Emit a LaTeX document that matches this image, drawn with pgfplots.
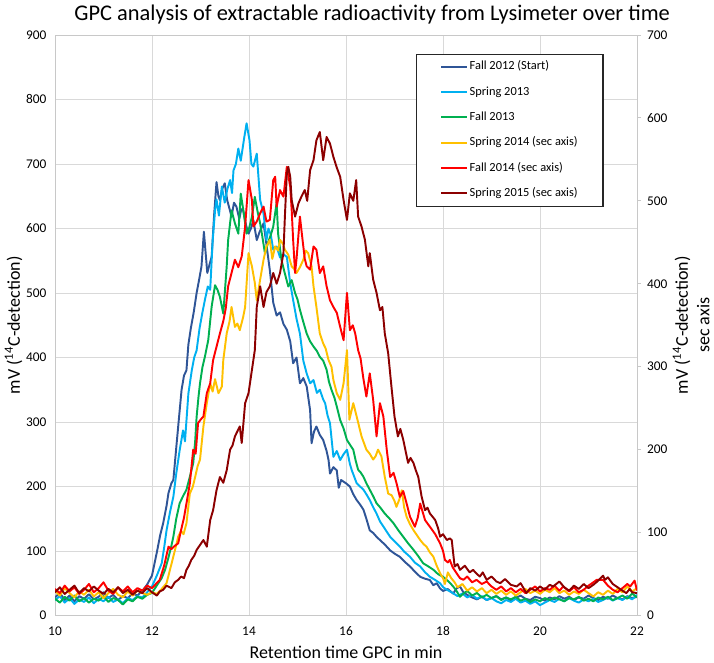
\documentclass[border=0pt]{standalone}
\usepackage{fontspec}
\setmainfont{Carlito}
\usepackage{pgfplots}
\pgfplotsset{compat=1.18}
\definecolor{cFallA}{RGB}{47,85,151}
\definecolor{cSprA}{RGB}{0,176,240}
\definecolor{cFallB}{RGB}{0,176,80}
\definecolor{cSprB}{RGB}{255,192,0}
\definecolor{cFallC}{RGB}{255,0,0}
\definecolor{cSprC}{RGB}{140,0,0}
\definecolor{gridgray}{RGB}{217,217,217}
\definecolor{axisgray}{RGB}{200,200,200}

\begin{document}
\begin{tikzpicture}
\useasboundingbox (-41.25pt,-35.625pt) rectangle (494.25pt,461.625pt);
\pgfplotsset{
  every axis plot/.append style={line width=1.45pt, line join=round},
  tick label style={font=\fontsize{10}{12}\selectfont},
}
% primary axis (left)
\begin{axis}[
  at={(0,0)}, anchor=south west,
  scale only axis, width=436.5pt, height=435.4pt,
  xmin=10, xmax=22, ymin=0, ymax=900,
  xtick={10,12,...,22}, ytick={0,100,...,900},
  grid=major, major grid style={draw=gridgray, line width=0.6pt},
  axis line style={draw=axisgray, line width=0.6pt},
  major tick length=0pt,
  /pgf/number format/assume math mode=true,
  xticklabel style={yshift=-5pt},
  yticklabel style={xshift=-3pt},
  xtick pos=bottom, ytick pos=left,
  title={GPC analysis of extractable radioactivity from Lysimeter over time},
  every axis title/.style={font=\fontsize{16.8}{20}\selectfont, at={(axis description cs:0.545,1.0344)}, anchor=center},
  xlabel={Retention time GPC in min},
  every axis x label/.style={at={(axis description cs:0.5,-0.063)}, anchor=center, font=\fontsize{13.5}{16}\selectfont},
  ylabel={mV (\textsuperscript{14}C-detection)},
  every axis y label/.style={at={(axis description cs:-0.071,0.5)}, rotate=90, anchor=center, font=\fontsize{13.5}{16}\selectfont},
]
\addplot[cFallA] coordinates {
(10.0,28)(10.1,35)(10.2,24)(10.3,31)(10.4,22)(10.5,30)(10.6,26)(10.7,33)(10.8,25)(10.9,29)
(11.0,36)(11.1,27)(11.2,32)(11.3,24)(11.4,30)(11.5,27)(11.6,34)(11.7,31)(11.8,38)(11.9,48)
(12.0,62)(12.1,98)(12.17,125)(12.23,143)(12.3,170)(12.34,190)(12.4,205)(12.44,210)(12.5,260)(12.54,293)
(12.61,350)(12.66,372)(12.71,380)(12.75,420)(12.8,445)(12.86,470)(12.92,500)(12.97,520)(13.02,541)(13.07,595)
(13.14,531)(13.2,548)(13.23,556)(13.28,620)(13.33,672)(13.37,650)(13.4,644)(13.45,662)(13.5,670)(13.55,644)
(13.6,630)(13.64,618)(13.69,640)(13.74,634)(13.8,615)(13.84,630)(13.88,628)(13.94,605)(13.99,592)(14.04,600)
(14.09,613)(14.16,582)(14.22,595)(14.3,608)(14.36,575)(14.43,535)(14.5,485)(14.57,465)(14.64,470)(14.71,452)
(14.78,443)(14.85,425)(14.91,391)(14.98,400)(15.05,360)(15.12,368)(15.19,355)(15.26,318)(15.29,267)(15.34,285)
(15.39,293)(15.46,280)(15.53,272)(15.6,255)(15.64,241)(15.67,220)(15.74,230)(15.81,225)(15.85,198)(15.9,210)
(16.0,205)(16.08,200)(16.15,188)(16.22,179)(16.29,172)(16.36,164)(16.42,150)(16.49,132)(16.56,128)(16.63,122)
(16.7,117)(16.8,110)(16.91,101)(17.0,96)(17.11,91)(17.2,84)(17.32,76)(17.42,68)(17.53,60)(17.63,57)
(17.73,55)(17.8,47)(17.87,50)(17.94,42)(18.0,38)(18.1,41)(18.21,34)(18.28,42)(18.35,45)(18.42,36)
(18.5,32)(18.6,28)(18.7,25)(18.8,29)(18.9,24)(19.0,27)(19.1,30)(19.2,25)(19.3,28)(19.4,23)
(19.5,27)(19.6,31)(19.7,26)(19.8,24)(19.9,29)(20.0,27)(20.1,23)(20.2,28)(20.3,25)(20.4,30)
(20.5,26)(20.6,29)(20.7,24)(20.8,28)(20.9,26)(21.0,31)(21.1,27)(21.2,24)(21.3,29)(21.4,26)
(21.5,31)(21.6,27)(21.7,25)(21.8,30)(21.9,27)(22.0,29)
};
\addplot[cSprA] coordinates {
(10.0,24)(10.1,30)(10.2,20)(10.3,27)(10.4,18)(10.5,25)(10.6,21)(10.7,28)(10.8,19)(10.9,26)
(11.0,22)(11.1,29)(11.2,21)(11.3,25)(11.4,19)(11.5,27)(11.6,24)(11.7,30)(11.8,28)(11.9,36)
(12.0,45)(12.1,62)(12.2,81)(12.25,105)(12.3,132)(12.37,160)(12.44,184)(12.5,220)(12.57,256)(12.64,287)
(12.68,270)(12.75,344)(12.82,380)(12.87,400)(12.92,411)(12.98,445)(13.04,470)(13.09,489)(13.15,510)(13.2,505)
(13.25,580)(13.3,628)(13.33,645)(13.38,620)(13.44,665)(13.5,640)(13.55,660)(13.61,675)(13.65,655)(13.68,690)
(13.73,700)(13.78,724)(13.83,705)(13.9,740)(13.95,763)(14.01,737)(14.05,700)(14.09,696)(14.16,716)(14.23,644)
(14.3,623)(14.36,582)(14.4,600)(14.45,590)(14.5,567)(14.57,572)(14.64,555)(14.71,560)(14.78,556)(14.85,515)
(14.91,489)(14.98,460)(15.05,437)(15.12,395)(15.19,375)(15.26,360)(15.33,365)(15.4,345)(15.46,350)(15.53,335)
(15.57,329)(15.62,310)(15.67,298)(15.74,246)(15.81,255)(15.88,241)(15.95,250)(16.02,257)(16.08,235)(16.12,225)
(16.22,205)(16.29,200)(16.36,195)(16.42,188)(16.49,179)(16.56,168)(16.63,158)(16.7,146)(16.77,138)(16.84,130)
(16.91,122)(17.0,115)(17.11,107)(17.2,99)(17.32,91)(17.42,82)(17.53,76)(17.63,67)(17.73,60)(17.84,55)
(17.94,50)(18.0,44)(18.08,40)(18.2,35)(18.3,30)(18.4,34)(18.5,28)(18.6,32)(18.7,26)(18.8,30)
(18.9,24)(19.0,27)(19.1,22)(19.2,19)(19.3,24)(19.4,21)(19.5,26)(19.6,20)(19.7,23)(19.8,18)
(19.9,22)(20.0,16)(20.1,20)(20.2,24)(20.3,21)(20.4,26)(20.5,22)(20.6,27)(20.7,23)(20.8,20)
(20.9,25)(21.0,22)(21.1,26)(21.2,21)(21.3,24)(21.4,28)(21.5,23)(21.6,27)(21.7,24)(21.8,29)
(21.9,25)(22.0,32)
};
\addplot[cFallB] coordinates {
(10.0,26)(10.1,20)(10.2,29)(10.3,23)(10.4,31)(10.5,22)(10.6,27)(10.7,20)(10.8,26)(10.9,23)
(11.0,30)(11.1,21)(11.2,27)(11.3,24)(11.4,17)(11.5,25)(11.6,22)(11.7,29)(11.8,26)(11.9,32)
(12.0,35)(12.06,42)(12.13,50)(12.2,58)(12.27,71)(12.34,90)(12.4,108)(12.44,122)(12.5,150)(12.57,174)
(12.64,185)(12.71,195)(12.78,215)(12.85,236)(12.89,270)(12.92,308)(12.96,340)(12.99,360)(13.04,385)(13.09,401)
(13.16,427)(13.23,479)(13.3,512)(13.35,505)(13.4,494)(13.47,468)(13.54,541)(13.57,582)(13.64,628)(13.71,608)
(13.78,592)(13.83,654)(13.88,630)(13.95,592)(14.0,600)(14.06,618)(14.12,649)(14.18,625)(14.23,608)(14.28,585)
(14.33,561)(14.4,580)(14.45,590)(14.5,603)(14.57,640)(14.6,592)(14.67,551)(14.74,530)(14.81,510)(14.88,520)
(14.95,500)(15.0,490)(15.05,474)(15.12,455)(15.19,437)(15.26,425)(15.33,417)(15.4,410)(15.46,401)(15.53,395)
(15.6,381)(15.65,362)(15.7,350)(15.76,338)(15.81,324)(15.88,303)(15.95,290)(16.02,272)(16.08,265)(16.15,257)
(16.2,240)(16.25,226)(16.3,222)(16.36,215)(16.42,205)(16.49,195)(16.56,185)(16.63,174)(16.7,168)(16.8,158)
(16.9,150)(16.98,143)(17.08,132)(17.18,122)(17.28,112)(17.39,102)(17.49,92)(17.59,81)(17.7,76)(17.8,71)
(17.9,64)(18.0,60)(18.08,55)(18.15,50)(18.21,45)(18.28,38)(18.35,29)(18.42,34)(18.5,38)(18.6,31)
(18.7,35)(18.8,28)(18.9,32)(19.0,27)(19.1,30)(19.2,24)(19.3,28)(19.4,25)(19.5,29)(19.6,23)
(19.7,26)(19.8,21)(19.9,25)(20.0,22)(20.1,27)(20.2,24)(20.3,28)(20.4,25)(20.5,22)(20.6,27)
(20.7,25)(20.8,29)(20.9,23)(21.0,26)(21.1,22)(21.2,28)(21.3,25)(21.4,29)(21.5,24)(21.6,27)
(21.7,31)(21.8,26)(21.9,34)(22.0,28)
};
\end{axis}
% secondary axis (right)
\begin{axis}[
  at={(0,0)}, anchor=south west,
  scale only axis, width=436.5pt, height=435.4pt,
  xmin=10, xmax=22, ymin=0, ymax=700,
  axis x line=none, axis y line*=right,
  ytick={0,100,...,700},
  y axis line style={draw=axisgray, line width=0.6pt},
  ytick style={draw=axisgray, line width=0.6pt},
  tick align=outside, major tick length=3pt,
  /pgf/number format/assume math mode=true,
  yticklabel style={xshift=1pt},
  ylabel={mV (\textsuperscript{14}C-detection)\\sec axis},
  every axis y label/.style={at={(axis description cs:1.093,0.5)}, rotate=90, anchor=center, align=center, font=\fontsize{13.5}{16}\selectfont},
  legend style={at={(0.62,0.968)}, anchor=north west, draw=black!85, line width=0.8pt, fill=white,
    font=\fontsize{9.3}{11}\selectfont, inner xsep=18pt, inner ysep=4.25pt, row sep=8.5pt,
    nodes={inner sep=1pt, text height=6.5pt, text depth=2pt}},
  legend cell align=left,
  legend image code/.code={\draw[#1, line width=1.5pt] (0pt,0pt) -- (19.5pt,0pt);},
]
\addlegendimage{color=cFallA}
\addlegendentry{Fall 2012 (Start)}
\addlegendimage{color=cSprA}
\addlegendentry{Spring 2013}
\addlegendimage{color=cFallB}
\addlegendentry{Fall 2013}
\addplot[cSprB] coordinates {
(10.0,30)(10.1,24)(10.2,33)(10.3,27)(10.4,22)(10.5,29)(10.6,25)(10.7,31)(10.8,23)(10.9,28)
(11.0,21)(11.1,27)(11.2,32)(11.3,25)(11.4,22)(11.5,29)(11.6,24)(11.7,30)(11.8,27)(11.9,25)
(12.0,28)(12.1,26)(12.2,32)(12.3,39)(12.37,55)(12.44,71)(12.5,85)(12.54,95)(12.6,102)(12.65,98)
(12.71,111)(12.78,147)(12.84,155)(12.89,167)(12.94,180)(12.99,188)(13.06,228)(13.13,256)(13.2,280)(13.25,270)
(13.3,285)(13.37,268)(13.44,276)(13.47,308)(13.54,340)(13.6,355)(13.64,372)(13.71,348)(13.76,352)(13.81,344)
(13.88,360)(13.92,372)(13.99,437)(14.06,421)(14.12,401)(14.16,380)(14.23,405)(14.3,429)(14.36,445)(14.43,453)
(14.48,430)(14.54,445)(14.6,440)(14.64,453)(14.7,448)(14.74,441)(14.81,435)(14.88,421)(14.93,418)(14.98,413)
(15.05,420)(15.12,429)(15.17,440)(15.22,437)(15.29,421)(15.33,397)(15.39,372)(15.46,340)(15.53,328)(15.58,322)
(15.64,308)(15.7,300)(15.74,284)(15.81,268)(15.88,260)(15.95,280)(16.02,320)(16.07,236)(16.15,256)(16.22,240)
(16.27,228)(16.32,216)(16.37,208)(16.42,200)(16.49,195)(16.56,188)(16.61,192)(16.66,200)(16.73,192)(16.8,167)
(16.87,147)(16.94,145)(17.0,138)(17.04,131)(17.1,140)(17.15,151)(17.2,130)(17.25,119)(17.32,110)(17.39,103)
(17.46,97)(17.53,91)(17.6,86)(17.66,83)(17.73,76)(17.8,71)(17.87,60)(17.94,51)(18.0,45)(18.04,38)
(18.1,52)(18.17,45)(18.24,40)(18.3,34)(18.4,38)(18.5,30)(18.6,34)(18.7,29)(18.8,33)(18.9,27)
(19.0,31)(19.1,26)(19.2,30)(19.3,25)(19.4,29)(19.5,24)(19.6,28)(19.7,32)(19.8,27)(19.9,30)
(20.0,26)(20.1,31)(20.2,28)(20.3,33)(20.4,27)(20.5,30)(20.6,25)(20.7,29)(20.8,26)(20.9,31)
(21.0,27)(21.1,23)(21.2,28)(21.3,25)(21.4,30)(21.5,26)(21.6,32)(21.7,28)(21.8,35)(21.9,29)
(22.0,33)
};
\addlegendentry{Spring 2014 (sec axis)}
\addplot[cFallC] coordinates {
(10.0,32)(10.1,27)(10.2,36)(10.3,29)(10.4,34)(10.5,26)(10.6,31)(10.7,38)(10.8,28)(10.9,33)
(11.0,40)(11.1,30)(11.2,26)(11.3,34)(11.4,29)(11.5,35)(11.6,28)(11.7,33)(11.8,30)(11.9,36)
(12.0,33)(12.08,38)(12.16,43)(12.25,60)(12.34,83)(12.4,80)(12.47,84)(12.54,87)(12.6,103)(12.66,118)
(12.71,135)(12.78,159)(12.85,200)(12.9,195)(12.95,232)(13.0,236)(13.06,240)(13.13,268)(13.2,280)(13.26,308)
(13.33,324)(13.4,340)(13.47,355)(13.52,370)(13.57,397)(13.64,413)(13.71,429)(13.78,420)(13.85,433)(13.92,469)
(13.99,525)(14.06,501)(14.09,469)(14.16,475)(14.23,485)(14.3,493)(14.36,475)(14.43,477)(14.5,525)(14.54,529)
(14.57,493)(14.64,513)(14.71,505)(14.78,541)(14.85,517)(14.88,489)(14.91,453)(14.95,413)(14.98,430)(15.05,481)
(15.1,455)(15.15,430)(15.19,421)(15.26,417)(15.33,445)(15.39,441)(15.46,413)(15.53,421)(15.6,397)(15.67,380)
(15.74,372)(15.81,365)(15.88,348)(15.95,332)(16.02,389)(16.08,344)(16.14,350)(16.19,340)(16.25,320)(16.3,310)
(16.36,285)(16.42,264)(16.49,292)(16.56,260)(16.63,216)(16.7,256)(16.77,240)(16.84,200)(16.91,167)(16.98,172)
(17.04,160)(17.11,143)(17.18,150)(17.25,135)(17.32,119)(17.42,107)(17.48,118)(17.53,135)(17.58,125)(17.63,115)
(17.73,107)(17.84,98)(17.94,87)(18.0,78)(18.04,67)(18.1,64)(18.14,67)(18.2,58)(18.28,51)(18.35,45)
(18.42,43)(18.5,47)(18.6,40)(18.69,43)(18.8,38)(18.9,41)(19.0,35)(19.1,31)(19.2,35)(19.3,29)
(19.4,33)(19.5,28)(19.6,32)(19.7,27)(19.8,31)(19.9,35)(20.0,29)(20.1,33)(20.2,31)(20.3,36)
(20.4,30)(20.48,35)(20.6,29)(20.7,34)(20.8,28)(20.9,31)(21.0,36)(21.1,40)(21.17,43)(21.3,43)
(21.4,36)(21.5,31)(21.6,28)(21.7,33)(21.8,38)(21.86,35)(21.95,42)(22.0,30)
};
\addlegendentry{Fall 2014 (sec axis)}
\addplot[cSprC] coordinates {
(10.0,28)(10.1,34)(10.2,26)(10.3,31)(10.4,36)(10.5,27)(10.6,33)(10.7,29)(10.8,35)(10.9,30)
(11.0,26)(11.1,32)(11.2,28)(11.3,34)(11.4,27)(11.5,31)(11.6,25)(11.7,30)(11.8,27)(11.9,33)
(12.0,28)(12.1,24)(12.16,29)(12.23,31)(12.3,36)(12.4,33)(12.47,40)(12.54,43)(12.6,47)(12.66,45)
(12.71,55)(12.76,60)(12.81,67)(12.87,72)(12.92,79)(12.99,85)(13.06,91)(13.13,83)(13.2,115)(13.26,127)
(13.33,151)(13.4,167)(13.47,160)(13.54,175)(13.61,200)(13.66,205)(13.71,216)(13.76,222)(13.81,228)(13.85,208)
(13.92,256)(13.99,268)(14.06,296)(14.12,320)(14.16,372)(14.23,397)(14.3,372)(14.36,390)(14.43,397)(14.5,413)
(14.57,400)(14.64,413)(14.71,437)(14.74,481)(14.78,533)(14.81,541)(14.85,529)(14.88,501)(14.95,481)(15.02,497)
(15.08,505)(15.15,513)(15.2,500)(15.26,537)(15.33,549)(15.39,573)(15.46,583)(15.53,549)(15.6,577)(15.67,569)
(15.74,553)(15.81,540)(15.88,529)(15.95,501)(16.02,477)(16.08,509)(16.15,500)(16.21,525)(16.25,481)(16.32,469)
(16.39,453)(16.46,421)(16.49,437)(16.56,405)(16.63,389)(16.7,368)(16.75,372)(16.8,340)(16.87,316)(16.93,280)
(17.0,240)(17.07,216)(17.12,225)(17.18,212)(17.23,198)(17.28,184)(17.33,190)(17.39,184)(17.44,175)(17.49,167)
(17.56,143)(17.63,127)(17.68,130)(17.73,123)(17.8,118)(17.84,115)(17.9,105)(17.94,95)(18.0,98)(18.08,91)
(18.14,93)(18.18,91)(18.24,59)(18.3,62)(18.35,55)(18.45,60)(18.55,52)(18.62,55)(18.7,50)(18.76,47)
(18.82,52)(18.9,43)(19.0,47)(19.1,41)(19.18,39)(19.28,44)(19.4,37)(19.52,35)(19.6,39)(19.72,27)
(19.8,33)(19.9,30)(20.0,35)(20.1,31)(20.2,37)(20.27,35)(20.4,41)(20.5,34)(20.6,30)(20.7,36)
(20.8,32)(20.9,38)(21.0,33)(21.1,37)(21.2,42)(21.3,48)(21.34,43)(21.4,46)(21.5,38)(21.6,34)
(21.7,30)(21.78,27)(21.85,32)(21.9,28)(22.0,27)
};
\addlegendentry{Spring 2015 (sec axis)}
\end{axis}
\end{tikzpicture}
\end{document}
